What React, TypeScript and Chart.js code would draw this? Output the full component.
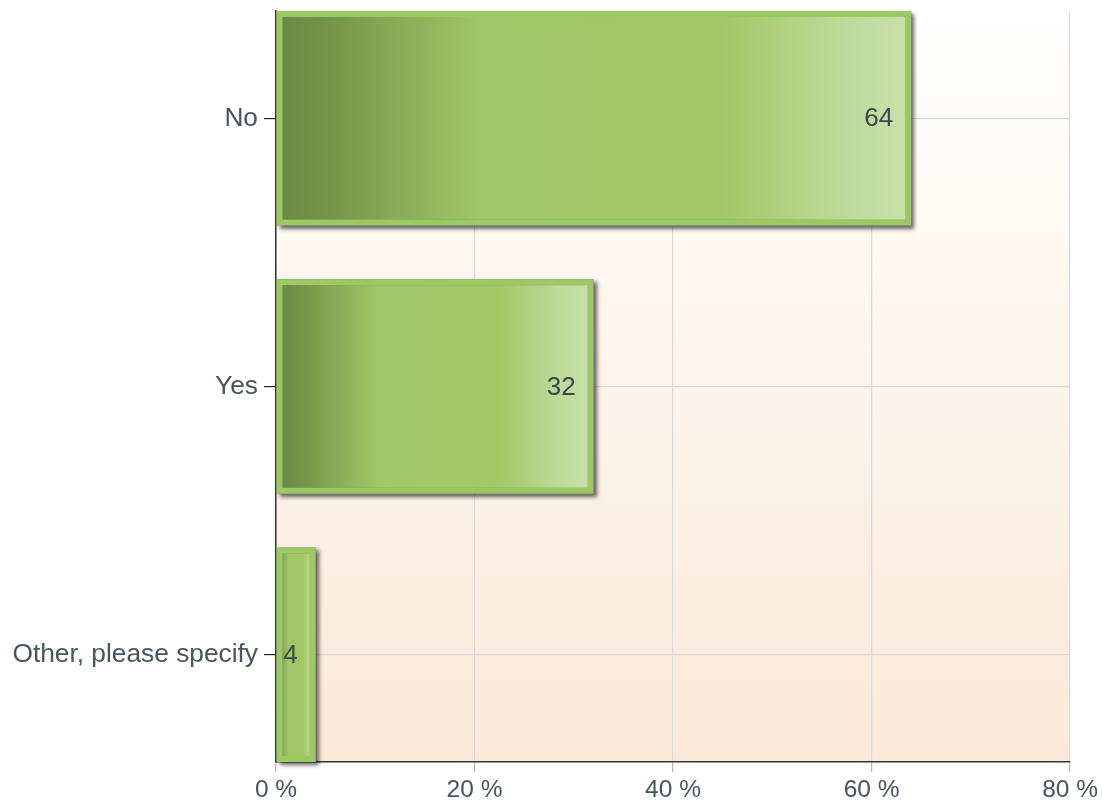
import React, { useEffect, useRef } from "react";
import { Chart, registerables } from "chart.js";

Chart.register(...registerables);

const categories = ["No", "Yes", "Other, please specify"];
const values = [64, 32, 4];
const xTicks = [0, 20, 40, 60, 80];

const FONT = '"Liberation Sans", Arial, sans-serif';
const TEXT = "#46555f";

const bgPlugin = {
  id: "plotBg",
  beforeDraw(chart: any) {
    const { ctx, chartArea: a } = chart;
    if (!a) return;
    const g = ctx.createLinearGradient(0, a.top, 0, a.bottom);
    g.addColorStop(0, "#ffffff");
    g.addColorStop(1, "#fae9d8");
    ctx.save();
    ctx.fillStyle = g;
    ctx.fillRect(a.left, a.top, a.right - a.left, a.bottom - a.top);
    ctx.restore();
  },
};

const shadowPlugin = {
  id: "barShadow",
  beforeDatasetsDraw(chart: any) {
    const { ctx } = chart;
    const meta = chart.getDatasetMeta(0);
    ctx.save();
    ctx.shadowColor = "rgba(0,0,0,0.6)";
    ctx.shadowOffsetX = 3;
    ctx.shadowOffsetY = 3;
    ctx.shadowBlur = 4;
    ctx.fillStyle = "#888";
    meta.data.forEach((bar: any) => {
      const { x, y, base, height } = bar.getProps(["x", "y", "base", "height"], true);
      ctx.fillRect(base, y - height / 2, x - base, height);
    });
    ctx.restore();
  },
};

const labelPlugin = {
  id: "barLabels",
  afterDatasetsDraw(chart: any) {
    const { ctx } = chart;
    const meta = chart.getDatasetMeta(0);
    ctx.save();
    ctx.font = `26px ${FONT}`;
    ctx.fillStyle = "#3c4a50";
    ctx.textAlign = "right";
    ctx.textBaseline = "middle";
    meta.data.forEach((bar: any, i: number) => {
      const { x, y } = bar.getProps(["x", "y"], true);
      ctx.fillText(String(values[i]), x - 18, y + 1);
    });
    ctx.restore();
  },
};

export default function App() {
  const ref = useRef<HTMLCanvasElement>(null);
  useEffect(() => {
    if (!ref.current) return;
    const chart = new Chart(ref.current, {
      type: "bar",
      data: {
        datasets: [
          {
            data: values.map((v, i) => ({ x: v, y: i })),
            backgroundColor: (c: any) => {
              const chart = c.chart;
              const xs = chart.scales?.x;
              if (!xs || c.parsed == null || c.dataIndex == null) return "#a0c865";
              const x0 = xs.getPixelForValue(0);
              const x1 = xs.getPixelForValue(c.parsed.x);
              if (!isFinite(x0) || !isFinite(x1) || x1 === x0) return "#a0c865";
              const g = chart.ctx.createLinearGradient(x0, 0, x1, 0);
              g.addColorStop(0, "#6a8743");
              g.addColorStop(0.08, "#74944a");
              g.addColorStop(0.2, "#89ae58");
              g.addColorStop(0.32, "#9fc866");
              g.addColorStop(0.7, "#a0c865");
              g.addColorStop(0.8, "#b0d17f");
              g.addColorStop(0.9, "#bfdb9b");
              g.addColorStop(1, "#c8e1ab");
              return g;
            },
            borderColor: "#9dca60",
            borderWidth: 6,
            borderSkipped: false,
            barPercentage: 1,
            categoryPercentage: 0.8,
          },
        ],
      },
      options: {
        indexAxis: "y",
        animation: false,
        responsive: false,
        layout: { padding: { left: 0, top: 11, right: 29, bottom: 0 } },
        plugins: { legend: { display: false }, tooltip: { enabled: false } },
        scales: {
          x: {
            type: "linear",
            min: 0,
            max: 80,
            offset: false,
            afterBuildTicks: (s: any) => {
              s.ticks = xTicks.map((v) => ({ value: v }));
            },
            afterFit: (s: any) => {
              s.height = 42;
            },
            ticks: {
              callback: (v: any) => `${v} %`,
              color: TEXT,
              font: { family: FONT, size: 24.5 },
              padding: 4,
              maxRotation: 0,
            },
            grid: { color: "#d9d9d9", tickColor: "#b5b5b5", tickLength: 10, lineWidth: 1.2, offset: false },
            border: { color: "#333333", width: 1.5 },
          },
          y: {
            type: "linear",
            reverse: true,
            min: -0.4,
            max: 2.4,
            offset: false,
            afterBuildTicks: (s: any) => {
              s.ticks = categories.map((_, i) => ({ value: i }));
            },
            afterFit: (s: any) => {
              s.width = 276;
              s.paddingTop = 0;
              s.paddingBottom = 0;
            },
            ticks: {
              callback: (v: any) => categories[v] ?? "",
              color: TEXT,
              font: { family: FONT, size: 26.3 },
              padding: 6,
            },
            grid: { color: "#d9d9d9", tickColor: "#222222", tickLength: 12, lineWidth: 1.2, offset: false },
            border: { color: "#333333", width: 1.5 },
          },
        },
      } as any,
      plugins: [bgPlugin, shadowPlugin, labelPlugin],
    });
    return () => chart.destroy();
  }, []);
  return (
    <div style={{ position: "absolute", left: 0, top: 0, width: 1102, height: 804 }}>
      <canvas ref={ref} width={1102} height={804} style={{ width: 1102, height: 804 }} />
    </div>
  );
}
